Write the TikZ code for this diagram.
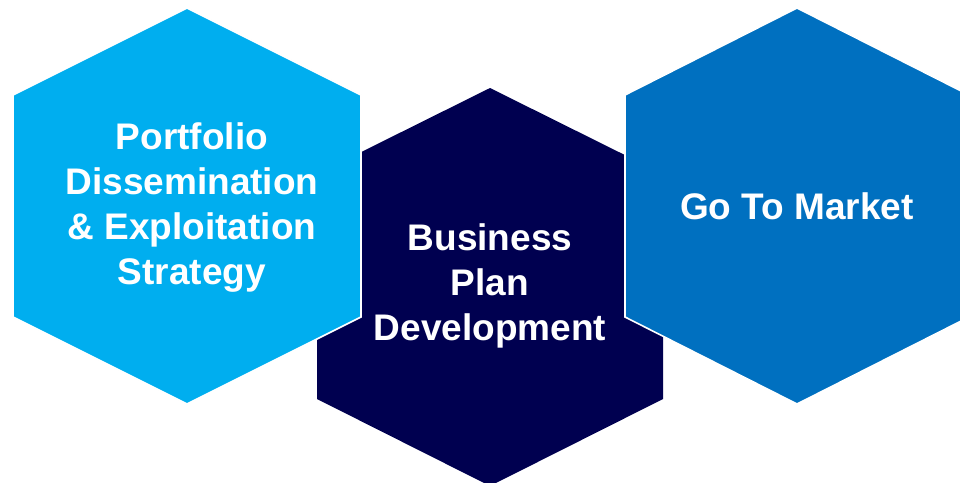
\documentclass[tikz,border=0pt]{standalone}
\usepackage{fontspec}
\setmainfont{Liberation Sans}
\definecolor{lightblue}{RGB}{0,174,239}
\definecolor{navyblue}{RGB}{0,0,80}
\definecolor{midblue}{RGB}{0,112,192}
\begin{document}
\begin{tikzpicture}[x=1pt,y=-1pt,
  hexfill/.style={draw=white, line width=1.6pt, line join=miter},
  lbl/.style={text=white, font=\bfseries\fontsize{37}{45}\selectfont, align=center, inner sep=0pt}]
\useasboundingbox (0,0) rectangle (960,482);
\clip (0,0) rectangle (960,482);
% middle hexagon (behind)
\fill[navyblue] (490,88) -- (663,174) -- (663,399) -- (490,486) -- (317,399) -- (317,174) -- cycle;
% left hexagon
\path[hexfill, fill=lightblue] (187,8) -- (361,95) -- (361,317) -- (187,404) -- (13,317) -- (13,95) -- cycle;
% right hexagon
\path[hexfill, fill=midblue] (797,8) -- (969,95) -- (969,317) -- (797,404) -- (625,317) -- (625,95) -- cycle;
\node[lbl] (pdes) at (192,208) {Portfolio\\Dissemination\\\& Exploitation\\Strategy};
\node[lbl] (bpd) at (490,286) {Business\\Plan\\Development};
\node[lbl] (gtm) at (797,206) {Go To Market};
\end{tikzpicture}
\end{document}
